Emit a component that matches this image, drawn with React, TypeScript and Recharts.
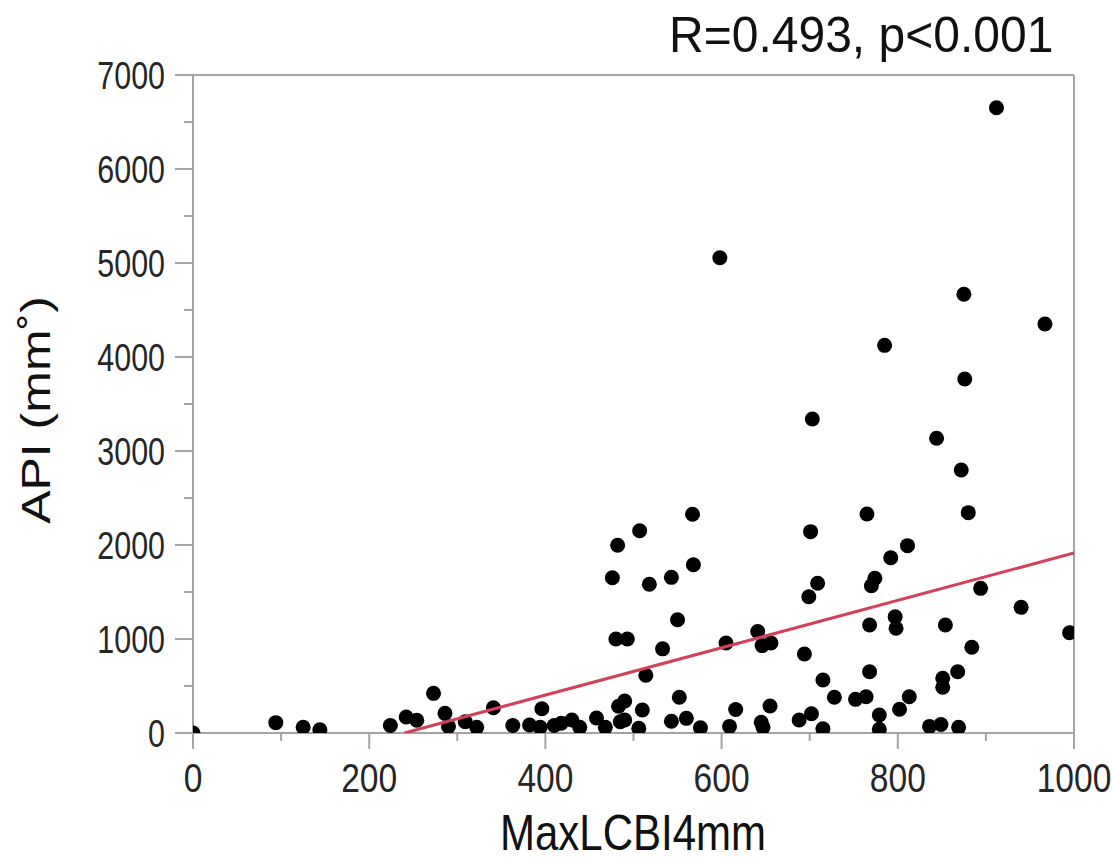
import { ScatterChart, Scatter, XAxis, YAxis, ReferenceLine } from "recharts";

// MaxLCBI4mm (x) and API (y)
const maxLcbi = [
  0, 94, 125, 144, 224, 242, 254, 273, 286, 290, 309, 322, 341, 363, 382, 394, 396, 410, 418, 430,
  439, 458, 468, 476, 480, 482, 483, 485, 490, 490, 493, 506, 507, 510, 514, 518, 533, 543, 543, 550,
  552, 560, 567, 568, 576, 598, 605, 609, 616, 641, 645, 646, 647, 655, 656, 688, 694, 699, 701, 702,
  703, 709, 715, 715, 728, 752, 764, 765, 768, 768, 770, 774, 779, 779, 785, 792, 797, 798, 802, 811,
  813, 836, 844, 849, 851, 851, 854, 868, 869, 872, 875, 876, 880, 884, 894, 912, 940, 967, 995,
];
const api = [
  0, 110, 60, 35, 80, 170, 135, 422, 209, 70, 120, 60, 268, 80, 85, 60, 258, 80, 103, 138,
  60, 160, 60, 1652, 1000, 1997, 285, 120, 138, 340, 1000, 50, 2152, 245, 614, 1582, 895, 125, 1656, 1205,
  380, 156, 2327, 1790, 55, 5056, 958, 70, 250, 1080, 115, 930, 60, 287, 958, 138, 840, 1450, 2142, 205,
  3340, 1593, 564, 45, 380, 358, 386, 2330, 1149, 652, 1567, 1646, 191, 40, 4124, 1865, 1237, 1114, 252, 1993,
  386, 70, 3135, 90, 582, 486, 1149, 652, 60, 2798, 4667, 3766, 2344, 912, 1539, 6652, 1337, 4351, 1067,
];

// regression line end points
const fitX = [240, 1000];
const fitY = [0, 1915];

const xTicks = [0, 100, 200, 300, 400, 500, 600, 700, 800, 900, 1000];
const yTicks = [0, 500, 1000, 1500, 2000, 2500, 3000, 3500, 4000, 4500, 5000, 5500, 6000, 6500, 7000];

const points = maxLcbi.map((x, i) => ({ x, y: api[i] }));
const fitLine = fitX.map((x, i) => ({ x, y: fitY[i] }));

const axisColor = "#a3a3a3";
const labelColor = "#262626";
const font = "'Liberation Sans', Arial, sans-serif";

const XTick = (props: any) => {
  const { x, y, payload } = props;
  const major = payload.value % 200 === 0;
  return (
    <g>
      <line x1={x} x2={x} y1={y} y2={y + (major ? 16 : 8)} stroke={axisColor} strokeWidth={2} />
      {major && (
        <text
          transform={`translate(${x} ${y}) scale(0.84 1)`}
          dy={59}
          textAnchor="middle"
          fill={labelColor}
          fontFamily={font}
          fontSize={40}
        >
          {payload.value}
        </text>
      )}
    </g>
  );
};

const YTick = (props: any) => {
  const { x, y, payload } = props;
  const major = payload.value % 1000 === 0;
  return (
    <g>
      <line x1={x} x2={x - (major ? 18 : 9)} y1={y} y2={y} stroke={axisColor} strokeWidth={2} />
      {major && (
        <text
          transform={`translate(${x - 28} ${y}) scale(0.8 1)`}
          dy={14}
          textAnchor="end"
          fill={labelColor}
          fontFamily={font}
          fontSize={38}
        >
          {payload.value}
        </text>
      )}
    </g>
  );
};

const Dot = (props: any) => <circle cx={props.cx} cy={props.cy} r={7.5} fill="#000" />;

export default function App() {
  return (
    <div style={{ position: "absolute", left: 0, top: 0, width: 1113, height: 861, background: "#fff" }}>
      <ScatterChart width={1113} height={861} margin={{ top: 75, right: 39, bottom: 68, left: 73 }}>
        <XAxis
          type="number"
          dataKey="x"
          domain={[0, 1000]}
          ticks={xTicks}
          interval={0}
          allowDataOverflow
          height={60}
          tickSize={0}
          tickMargin={0}
          tickLine={false}
          axisLine={{ stroke: axisColor, strokeWidth: 2 }}
          tick={<XTick />}
        />
        <YAxis
          type="number"
          dataKey="y"
          domain={[0, 7000]}
          ticks={yTicks}
          interval={0}
          allowDataOverflow
          width={120}
          tickSize={0}
          tickMargin={0}
          tickLine={false}
          axisLine={{ stroke: axisColor, strokeWidth: 2 }}
          tick={<YTick />}
        />
        <ReferenceLine y={7000} stroke={axisColor} strokeWidth={2} />
        <ReferenceLine x={1000} stroke={axisColor} strokeWidth={2} />
        <Scatter data={points} shape={<Dot />} isAnimationActive={false} />
        <Scatter
          data={fitLine}
          line={{ stroke: "#d3405b", strokeWidth: 3 }}
          shape={() => <g />}
          isAnimationActive={false}
        />
      </ScatterChart>
      <div
        style={{
          position: "absolute",
          right: 60,
          top: 10,
          fontFamily: font,
          fontSize: 50,
          lineHeight: 1,
          color: "#111",
          whiteSpace: "nowrap",
          transform: "scaleX(0.96)",
          transformOrigin: "right center",
        }}
      >
        R=0.493, p&lt;0.001
      </div>
      <div
        style={{
          position: "absolute",
          left: 633,
          top: 833,
          transform: "translate(-50%, -50%) scaleX(0.84)",
          fontFamily: font,
          fontSize: 50,
          lineHeight: 1,
          color: "#111",
          whiteSpace: "nowrap",
        }}
      >
        MaxLCBI4mm
      </div>
      <div
        style={{
          position: "absolute",
          left: 36,
          top: 410,
          transform: "translate(-50%, -50%) scaleX(0.82) rotate(-90deg)",
          fontFamily: font,
          fontSize: 50,
          lineHeight: 1,
          color: "#111",
          whiteSpace: "nowrap",
        }}
      >
        API (mm˚)
      </div>
    </div>
  );
}
